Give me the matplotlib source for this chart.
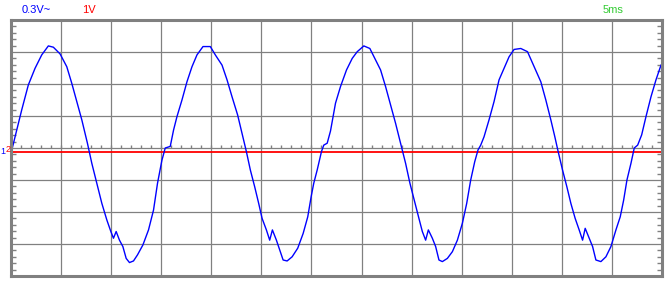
import numpy as np
import matplotlib.pyplot as plt
from matplotlib.ticker import MultipleLocator

# time in ms (5 ms/div, 13 div), amplitude in divisions (8 div)
ch1_t = [0.13, 0.57, 1.07, 1.73, 2.4, 3.07, 3.73, 4.23, 4.9, 5.57,
         6.07, 6.57, 7.07, 7.63, 8.07, 8.57, 9.07, 9.57, 9.97, 10.23,
         10.5, 10.83, 11.17, 11.5, 11.83, 12.23, 12.63, 13.17, 13.73, 14.23,
         14.63, 15.07, 15.4,
         15.9, 16.23, 16.57, 17.07, 17.57, 18.07, 18.57, 19.17, 19.9, 20.4,
         21.07, 21.57, 22.07, 22.63, 23.07, 23.5, 23.9, 24.33, 24.73, 25.07,
         25.5, 25.83, 26.1, 26.5, 26.83, 27.17, 27.57, 28.07, 28.63, 29.17,
         29.63, 29.97, 30.23, 30.57, 31.0, 31.23, 31.57,
         31.9, 32.4, 32.9, 33.5, 34.07, 34.57, 35.23, 35.83, 36.4, 36.9,
         37.4, 37.9, 38.4, 38.9, 39.4, 39.83, 40.3, 40.73, 41.07, 41.4,
         41.67, 42.07, 42.4, 42.73, 43.07, 43.57, 44.07, 44.57, 45.07, 45.5,
         45.9, 46.3, 46.63, 46.9,
         47.23, 47.73, 48.23, 48.73, 49.23, 49.73, 50.23, 50.9, 51.57, 52.23,
         52.9, 53.4, 53.9, 54.3, 54.63, 55.07, 55.5, 55.9, 56.33, 56.73,
         57.07, 57.33, 57.73, 58.07, 58.4, 58.9, 59.4, 59.9, 60.4, 60.83,
         61.17, 61.5, 61.9, 62.23, 62.57, 62.97, 63.4, 63.9, 64.4, 64.9]
ch1_v = [0, 0.56, 1.19, 1.97, 2.49, 2.91, 3.19, 3.15, 2.94, 2.54,
         2.02, 1.45, 0.88, 0.15, -0.48, -1.1, -1.73, -2.25, -2.61, -2.82,
         -2.61, -2.88, -3.08, -3.45, -3.58, -3.53, -3.34, -3.03, -2.56, -1.94,
         -1.1, -0.38, 0,
         0.05, 0.56, 0.98, 1.5, 2.07, 2.54, 2.91, 3.17, 3.17, 2.91,
         2.59, 2.13, 1.6, 1.03, 0.46, -0.11, -0.69, -1.21, -1.73, -2.2,
         -2.56, -2.88, -2.56, -2.88, -3.19, -3.5, -3.53, -3.4, -3.13, -2.67,
         -2.15, -1.52, -1.1, -0.69, -0.11, 0.09, 0.15,
         0.53, 1.4, 1.92, 2.44, 2.8, 3.01, 3.19, 3.11, 2.75, 2.44,
         1.92, 1.34, 0.77, 0.15, -0.48, -1.1, -1.68, -2.2, -2.61, -2.88,
         -2.56, -2.82, -3.08, -3.5, -3.55, -3.45, -3.24, -2.88, -2.35, -1.73,
         -1.0, -0.43, -0.06, 0.09,
         0.35, 0.88, 1.45, 2.13, 2.49, 2.85, 3.08, 3.11, 3.01, 2.54,
         2.07, 1.5, 0.88, 0.35, -0.11, -0.69, -1.21, -1.73, -2.2, -2.56,
         -2.88, -2.51, -2.82, -3.08, -3.5, -3.55, -3.4, -3.08, -2.56, -2.15,
         -1.63, -1.0, -0.48, 0, 0.09, 0.41, 0.98, 1.6, 2.13, 2.59]
ch2_t = [0.2, 65]
ch2_v = [-0.13, -0.13]

W, H = 672, 299
fig = plt.figure(figsize=(W / 100, H / 100), dpi=100)
ax = fig.add_axes([11 / W, 23 / H, 651 / W, 256 / H])

grey = "#808080"
ax.set_xlim(0, 65)
ax.set_ylim(-4, 4)
ax.set_xticks(np.arange(0, 66, 5))
ax.set_yticks(np.arange(-4, 5, 1))
ax.yaxis.set_minor_locator(MultipleLocator(0.2))
ax.grid(True, which="major", color=grey, lw=0.9)
ax.tick_params(which="major", length=0, labelleft=False, labelbottom=False)
ax.tick_params(which="minor", axis="y", direction="in", length=3.5,
               width=1.0, color=grey, left=True, right=True)
ax.tick_params(which="minor", axis="x", length=0)
for s in ax.spines.values():
    s.set_color(grey)
    s.set_linewidth(2.2)

# small ticks on the centre line
ax.vlines(np.arange(1, 65), 0, 0.09, color=grey, lw=1.0)

ax.plot(ch2_t, ch2_v, color="#ff0000", lw=1.3)
ax.plot(ch1_t, ch1_v, color="#0000ff", lw=1.0)

fy = 1 - 10 / H
fig.text(22 / W, fy, "0.3V~", color="#0000ff", fontsize=8, va="center",
         family="Liberation Sans")
fig.text(82 / W, fy, "1V", color="#ff0000", fontsize=8, va="center",
         family="Liberation Sans")
fig.text(603 / W, fy, "5ms", color="#33cc33", fontsize=8, va="center",
         family="Liberation Sans")
fig.text(0 / W, 1 - 151 / H, "1", color="#0000ff", fontsize=6.5, va="center",
         family="Liberation Sans", zorder=5)
fig.text(5.3 / W, 1 - 149 / H, "2", color="#ff0000", fontsize=6.5, va="center",
         family="Liberation Sans", zorder=5)

fig.savefig("out.png", dpi=100)
